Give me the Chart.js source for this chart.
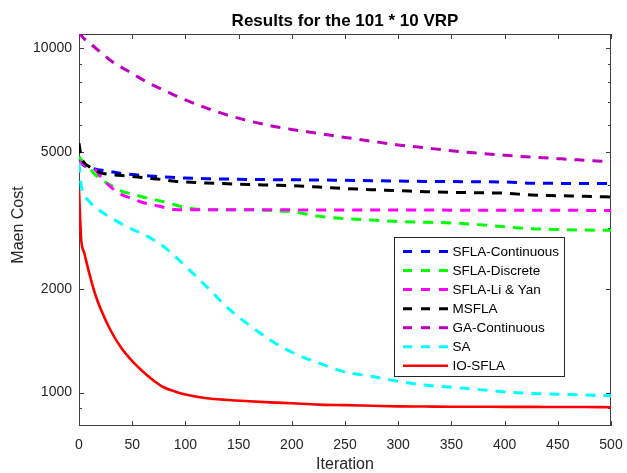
<!DOCTYPE html>
<html>
<head>
<meta charset="utf-8">
<script src="https://cdn.jsdelivr.net/npm/chart.js@4.4.0/dist/chart.umd.min.js"></script>
<style>
html,body{margin:0;padding:0;background:#ffffff;}
#wrap{width:627px;height:473px;position:relative;}
</style>
</head>
<body>
<div id="wrap"><canvas id="c" width="627" height="473"></canvas></div>
<script>
// ---- data ----
const iterations = [0, 2, 5, 10, 15, 20, 30, 40, 50, 60, 70, 80, 90, 100, 120, 140, 160, 180, 200, 225, 250, 275, 300, 325, 350, 375, 400, 425, 450, 475, 500];

const sflaContinuous = [4750, 4650, 4560, 4490, 4460, 4430, 4380, 4330, 4300, 4270, 4250, 4230, 4215, 4200, 4180, 4170, 4160, 4155, 4150, 4145, 4135, 4125, 4115, 4105, 4100, 4095, 4090, 4058, 4052, 4050, 4048];
const sflaDiscrete   = [4850, 4750, 4620, 4480, 4300, 4170, 4000, 3850, 3770, 3700, 3640, 3580, 3510, 3450, 3400, 3395, 3395, 3380, 3350, 3255, 3200, 3170, 3140, 3125, 3110, 3075, 3030, 2992, 2975, 2965, 2960];
const sflaLiYan      = [4700, 4640, 4580, 4540, 4450, 4250, 3950, 3760, 3660, 3565, 3510, 3450, 3400, 3395, 3395, 3395, 3395, 3395, 3394, 3393, 3392, 3391, 3390, 3389, 3388, 3387, 3386, 3385, 3384, 3382, 3380];
const msfla          = [5300, 4850, 4650, 4520, 4420, 4350, 4300, 4270, 4240, 4210, 4180, 4150, 4110, 4090, 4060, 4040, 4020, 4005, 3990, 3955, 3915, 3885, 3860, 3832, 3815, 3805, 3795, 3748, 3730, 3718, 3700];
const gaContinuous   = [11100, 10900, 10650, 10350, 10050, 9750, 9200, 8800, 8450, 8100, 7800, 7550, 7300, 7080, 6700, 6390, 6150, 5960, 5810, 5660, 5510, 5370, 5240, 5140, 5040, 4960, 4890, 4830, 4780, 4730, 4680];
const saValues       = [4650, 4000, 3750, 3580, 3460, 3370, 3220, 3090, 2980, 2890, 2780, 2650, 2490, 2330, 2030, 1760, 1570, 1420, 1310, 1220, 1148, 1115, 1078, 1052, 1036, 1022, 1005, 995, 990, 985, 980];
const ioSfla         = [3880, 2800, 2540, 2200, 1940, 1760, 1510, 1345, 1235, 1152, 1085, 1035, 1008, 988, 963, 952, 944, 937, 931, 923, 920, 916, 912, 911, 910, 910, 909, 909, 908, 908, 907];

const seriesNames = ['SFLA-Continuous', 'SFLA-Discrete', 'SFLA-Li & Yan', 'MSFLA', 'GA-Continuous', 'SA', 'IO-SFLA'];
const seriesValues = [sflaContinuous, sflaDiscrete, sflaLiYan, msfla, gaContinuous, saValues, ioSfla];

const xTickValues = [0, 50, 100, 150, 200, 250, 300, 350, 400, 450, 500];
const yTickValues = [900, 1000, 2000, 3000, 4000, 5000, 6000, 7000, 8000, 9000, 10000];
const yTickLabels = ['1000', '2000', '5000', '10000'];

const chartTitle = 'Results for the 101 * 10 VRP';
const xLabel = 'Iteration';
const yLabel = 'Maen Cost';

// ---- styles ----
const colors = ['#0000ff', '#00ff00', '#ff00ff', '#000000', '#bf00bf', '#00ffff', '#ff0000'];
const dashed = [true, true, true, true, true, true, false];
const FONT = '"Liberation Sans", Arial, Helvetica, sans-serif';
const TXT = '#262626';
const AXC = '#404040';

const datasets = seriesValues.map((vals, i) => ({
  label: seriesNames[i],
  data: vals.map((v, k) => ({ x: iterations[k], y: v })),
  borderColor: colors[i],
  backgroundColor: colors[i],
  borderWidth: dashed[i] ? 3 : 2.6,
  borderDash: dashed[i] ? [10, 8] : [],
  pointRadius: 0,
  fill: false,
  cubicInterpolationMode: 'monotone',
  order: seriesValues.length - i
}));

const axesPlugin = {
  id: 'matlabAxes',
  beforeDatasetsDraw(chart) {
    const { ctx, chartArea: a, scales } = chart;
    const xs = scales.x, ys = scales.y;
    ctx.save();
    ctx.strokeStyle = AXC;
    ctx.lineWidth = 1;
    ctx.beginPath();
    yTickValues.forEach(v => {
      const p = Math.round(ys.getPixelForValue(v)) + 0.5;
      const len = yTickLabels.includes(String(v)) ? 5 : 3;
      ctx.moveTo(a.left, p); ctx.lineTo(a.left + len, p);
      ctx.moveTo(a.right, p); ctx.lineTo(a.right - len, p);
    });
    xTickValues.forEach(v => {
      const p = Math.round(xs.getPixelForValue(v)) + 0.5;
      ctx.moveTo(p, a.bottom); ctx.lineTo(p, a.bottom - 5);
      ctx.moveTo(p, a.top); ctx.lineTo(p, a.top + 5);
    });
    ctx.stroke();
    ctx.strokeRect(Math.round(a.left) + 0.5, Math.round(a.top) + 0.5,
                   Math.round(a.right - a.left) - 1, Math.round(a.bottom - a.top) - 1);
    ctx.restore();
  },
  afterDraw(chart) {
    const { ctx, chartArea: a } = chart;
    ctx.save();
    // title
    ctx.fillStyle = '#000000';
    ctx.font = 'bold 17px ' + FONT;
    ctx.textAlign = 'center';
    ctx.textBaseline = 'alphabetic';
    ctx.fillText(chartTitle, (a.left + a.right) / 2, 26);
    // x label
    ctx.fillStyle = TXT;
    ctx.font = '16px ' + FONT;
    ctx.fillText(xLabel, (a.left + a.right) / 2, 468.5);
    // y label
    ctx.save();
    ctx.translate(22.5, 225);
    ctx.rotate(-Math.PI / 2);
    ctx.fillText(yLabel, 0, 0);
    ctx.restore();

    // legend box
    const bx = 394.5, by = 237.5, bw = 170, bh = 139;
    ctx.fillStyle = '#ffffff';
    ctx.fillRect(bx, by, bw, bh);
    ctx.strokeStyle = TXT;
    ctx.lineWidth = 1;
    ctx.strokeRect(bx, by, bw, bh);
    ctx.font = '13.5px ' + FONT;
    ctx.textAlign = 'left';
    ctx.textBaseline = 'middle';
    chart.data.datasets.forEach((ds, i) => {
      const y = 251.5 + i * 19.05;
      ctx.save();
      ctx.strokeStyle = ds.borderColor;
      ctx.lineWidth = ds.borderWidth;
      ctx.setLineDash(ds.borderDash.length ? [9, 9] : []);
      ctx.beginPath();
      ctx.moveTo(403, y);
      ctx.lineTo(448, y);
      ctx.stroke();
      ctx.restore();
      ctx.fillStyle = '#000000';
      ctx.fillText(ds.label, 452.5, y + 0.5);
    });
    ctx.restore();
  }
};

new Chart(document.getElementById('c'), {
  type: 'line',
  data: { datasets },
  options: {
    responsive: false,
    devicePixelRatio: 1,
    animation: false,
    events: [],
    layout: { padding: { top: 34, right: 16, bottom: 0, left: 0 } },
    plugins: { legend: { display: false }, tooltip: { enabled: false }, title: { display: false } },
    scales: {
      x: {
        type: 'linear',
        min: 0, max: 500,
        afterBuildTicks: s => { s.ticks = xTickValues.map(v => ({ value: v })); },
        afterFit: s => { s.height = 47; s.paddingLeft = 0; s.paddingRight = 0; },
        grid: { display: false, drawTicks: false },
        border: { display: false },
        ticks: { autoSkip: false, maxRotation: 0, padding: 11, color: TXT, font: { family: FONT, size: 14 } }
      },
      y: {
        type: 'logarithmic',
        min: 800, max: 11000,
        bounds: 'data',
        afterBuildTicks: s => { s.ticks = yTickValues.map(v => ({ value: v })); },
        afterFit: s => { s.width = 79; s.paddingTop = 0; s.paddingBottom = 0; },
        grid: { display: false, drawTicks: false },
        border: { display: false },
        ticks: {
          autoSkip: false, padding: 7, color: TXT, font: { family: FONT, size: 14 },
          callback: v => (yTickLabels.includes(String(v)) ? String(v) : '')
        }
      }
    }
  },
  plugins: [axesPlugin]
});
</script>
</body>
</html>
